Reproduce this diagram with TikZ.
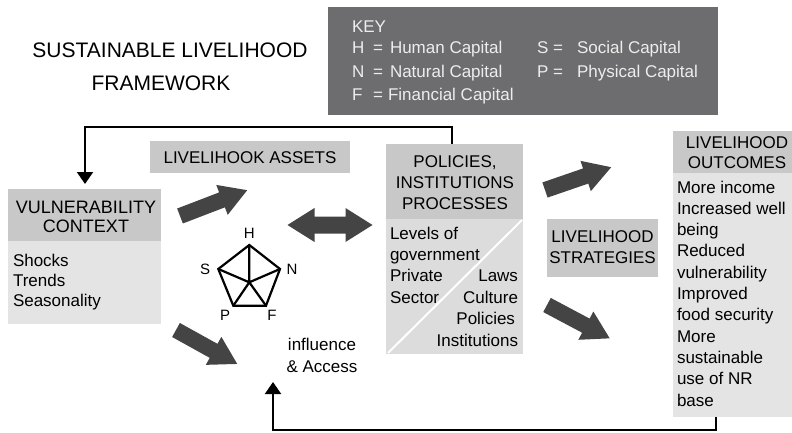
\documentclass[tikz,border=0pt]{standalone}
\usepackage{fontspec}
\setmainfont{Liberation Sans}
\usetikzlibrary{arrows.meta,calc}
\definecolor{keygray}{HTML}{6D6D6F}
\definecolor{keytext}{HTML}{EDEDED}
\definecolor{hdr}{HTML}{C8C8C8}
\definecolor{bodyg}{HTML}{E4E4E4}
\definecolor{polbody}{HTML}{DCDCDC}
\definecolor{fat}{HTML}{444444}
\tikzset{
  box/.style={draw=none, inner sep=0pt, outer sep=0pt, anchor=north west},
  tx/.style={inner sep=0pt, outer sep=0pt, font=\fontsize{17}{21}\selectfont, text=black},
  tbig/.style={inner sep=0pt, outer sep=0pt, font=\fontsize{18}{21}\selectfont, text=black},
  ttl/.style={inner sep=0pt, outer sep=0pt, font=\fontsize{21}{24}\selectfont, text=black, anchor=base},
  kt/.style={inner sep=0pt, outer sep=0pt, font=\fontsize{17}{21}\selectfont, text=keytext, anchor=base west},
  lbl/.style={inner sep=0pt, outer sep=0pt, font=\fontsize{15}{18}\selectfont, text=black, anchor=base},
  fb/.style={line width=2pt, draw=black, -{Triangle[width=16pt,length=12pt]}},
  pent/.style={line width=2.2pt, line join=miter},
  pics/fatarr/.style={code={\fill[fat] (0,-8) -- ({#1-27},-8) -- ({#1-27},-16) -- (#1,0) -- ({#1-27},16) -- ({#1-27},8) -- (0,8) -- cycle;}},
  pics/dblarr/.style={code={\fill[fat] (-42.5,0) -- (-15.5,-17) -- (-15.5,-8.5) -- (15.5,-8.5) -- (15.5,-17) -- (42.5,0) -- (15.5,17) -- (15.5,8.5) -- (-15.5,8.5) -- (-15.5,17) -- cycle;}}
}
\begin{document}
\begin{tikzpicture}[x=1pt,y=-1pt]
\useasboundingbox (0,0) rectangle (792,433);
\fill[white] (0,0) rectangle (792,433);

% title
\node[ttl] (t1) at (170,57.5) {SUSTAINABLE LIVELIHOOD};
\node[ttl] (t2) at (161,90.5) {FRAMEWORK};

% key
\node[box, fill=keygray, minimum width=390pt, minimum height=108pt] (key) at (328,7) {};
\node[kt] (k0) at (352,33) {KEY};
\node[kt] (kH) at (352,54) {H};
\node[kt] (kHe) at (373,54) {=};
\node[kt] (kHt) at (390,54) {Human Capital};
\node[kt] (kN) at (352,78) {N};
\node[kt] (kNe) at (373,78) {=};
\node[kt] (kNt) at (390,78) {Natural Capital};
\node[kt] (kF) at (352,101) {F};
\node[kt] (kFe) at (373,101) {=};
\node[kt] (kFt) at (388,101) {Financial Capital};
\node[kt] (kS) at (537,54) {S};
\node[kt] (kSe) at (553,54) {=};
\node[kt] (kSt) at (577,54) {Social Capital};
\node[kt] (kP) at (537,78) {P};
\node[kt] (kPe) at (553,78) {=};
\node[kt] (kPt) at (577,78) {Physical Capital};

% vulnerability context
\node[box, fill=hdr, minimum width=153pt, minimum height=52pt] (vulnh) at (8,189) {};
\node[box, fill=bodyg, minimum width=153pt, minimum height=83pt] (vulnb) at (8,241) {};
\node[tbig, anchor=base] (v1) at (86,213) {VULNERABILITY};
\node[tbig, anchor=base] (v2) at (86,232) {CONTEXT};
\node[tx, anchor=base west] (v3) at (13,266) {Shocks};
\node[tx, anchor=base west] (v4) at (13,286) {Trends};
\node[tx, anchor=base west] (v5) at (13,306) {Seasonality};

% livelihood assets
\node[box, fill=hdr, minimum width=200pt, minimum height=32pt] (assets) at (150,141) {};
\node[tx, anchor=base] (a1) at (250,163) {LIVELIHOOK ASSETS};

% pentagon
\coordinate (pH) at (249.3,245);
\coordinate (pS) at (218.3,269);
\coordinate (pN) at (280,269);
\coordinate (pP) at (233.3,305.7);
\coordinate (pF) at (266,305.7);
\coordinate (pC) at (249.3,282.3);
\draw[pent] (pH) -- (pN) -- (pF) -- (pP) -- (pS) -- cycle;
\draw[pent] (pC) -- (pH) (pC) -- (pS) (pC) -- (pN) (pC) -- (pP) (pC) -- (pF);
\node[lbl] (lH) at (249.3,238.7) {H};
\node[lbl] (lS) at (205,274.7) {S};
\node[lbl] (lN) at (292,274.7) {N};
\node[lbl] (lP) at (225,320.4) {P};
\node[lbl] (lF) at (272,320.4) {F};

% influence & access
\node[tx, anchor=base] (inf1) at (322,350) {influence};
\node[tx, anchor=base] (inf2) at (322,372) {\& Access};

% policies
\node[box, fill=hdr, minimum width=137pt, minimum height=75pt] (polh) at (386,144) {};
\node[box, fill=polbody, minimum width=137pt, minimum height=135pt] (polb) at (386,219) {};
\draw[white, line width=2pt] ([shift={(2pt,1pt)}]polb.south west) -- ([shift={(-1pt,-1pt)}]polb.north east);
\node[tx, anchor=base] (p1) at (455,167) {POLICIES,};
\node[tx, anchor=base] (p2) at (455,188) {INSTITUTIONS};
\node[tx, anchor=base] (p3) at (455,209) {PROCESSES};
\node[tx, anchor=base west] (p4) at (390,239) {Levels of};
\node[tx, anchor=base west] (p5) at (390,260.4) {government};
\node[tx, anchor=base west] (p6) at (390,281.8) {Private};
\node[tx, anchor=base west] (p7) at (390,303.2) {Sector};
\node[tx, anchor=base east] (p8) at (518,281.8) {Laws};
\node[tx, anchor=base east] (p9) at (518,303.2) {Culture};
\node[tx, anchor=base east] (p10) at (515,324.6) {Policies};
\node[tx, anchor=base east] (p11) at (518,346) {Institutions};

% strategies
\node[box, fill=hdr, minimum width=111pt, minimum height=58pt] (strat) at (547,219) {};
\node[tx, anchor=base] (s1) at (602.5,242) {LIVELIHOOD};
\node[tx, anchor=base] (s2) at (602.5,263) {STRATEGIES};

% outcomes
\node[box, fill=hdr, minimum width=130pt, minimum height=42pt] (outh) at (673,131) {};
\node[box, fill=bodyg, minimum width=130pt, minimum height=244pt] (outb) at (673,173) {};
\node[tx, anchor=base] (o1) at (737,148) {LIVELIHOOD};
\node[tx, anchor=base] (o2) at (737,168) {OUTCOMES};
\foreach \t [count=\i from 0] in {More income,Increased well,being,Reduced,vulnerability,Improved,food security,More,sustainable,use of NR,base}
  \node[tx, anchor=base west] (ob\i) at (677,193+21.3*\i) {\t};

% fat arrows
\pic[rotate=21] at (180,216) {fatarr=72};
\pic[rotate=-29] at (176,330) {fatarr=70};
\pic[rotate=19] at (545,190) {fatarr=70};
\pic[rotate=-28] at (547,305) {fatarr=71};
\pic at (330,225) {dblarr};

% feedback lines
\coordinate (topL) at (85,127);
\coordinate (botR) at (716,430);
\coordinate (botL) at (273,430);
\coordinate (accTip) at (273,382);
\draw[fb, shorten >=5pt] ([xshift=66pt]polh.north west) |- (topL) -- (vulnh.north -| topL);
\draw[fb] (outb.south -| botR) -- (botR) -- (botL) -- (accTip);
\end{tikzpicture}
\end{document}
